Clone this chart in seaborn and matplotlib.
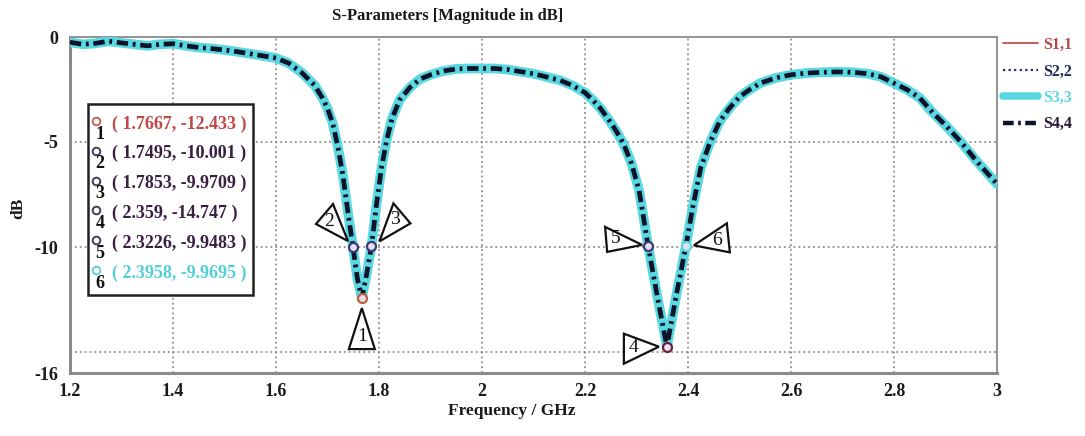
import numpy as np
import pandas as pd
import matplotlib
matplotlib.use("Agg")
import matplotlib.pyplot as plt
import matplotlib.transforms as mtransforms
from matplotlib.patches import Polygon, Rectangle
from matplotlib.lines import Line2D
import seaborn as sns

# ---------------- data ----------------
freq_ghz = [1.20, 1.225, 1.25, 1.275, 1.30, 1.325, 1.35, 1.375, 1.40, 1.425, 1.45, 1.475,
            1.50, 1.525, 1.55, 1.575, 1.60, 1.625, 1.65, 1.675, 1.69, 1.70, 1.71, 1.72,
            1.73, 1.74, 1.7495, 1.758, 1.7667, 1.776, 1.7853, 1.795, 1.805, 1.815, 1.825,
            1.84, 1.86, 1.88, 1.90, 1.925, 1.95, 1.975, 2.00, 2.025, 2.05, 2.075, 2.10,
            2.125, 2.15, 2.175, 2.20, 2.215, 2.23, 2.245, 2.26, 2.275, 2.29, 2.305, 2.3226,
            2.34, 2.359, 2.378, 2.3958, 2.41, 2.425, 2.443, 2.462, 2.48, 2.50, 2.52, 2.54,
            2.57, 2.60, 2.63, 2.66, 2.69, 2.72, 2.75, 2.775, 2.80, 2.825, 2.85, 2.875, 2.90,
            2.93, 2.96, 3.00]
s11_db = [-0.25, -0.35, -0.30, -0.20, -0.28, -0.35, -0.42, -0.35, -0.32, -0.42, -0.50, -0.55,
          -0.62, -0.70, -0.80, -0.90, -1.00, -1.25, -1.70, -2.30, -2.90, -3.40, -4.10, -5.20,
          -6.60, -8.40, -10.001, -11.50, -12.433, -11.30, -9.9709, -8.00, -6.20, -4.90, -3.90,
          -3.00, -2.40, -2.00, -1.80, -1.62, -1.52, -1.50, -1.50, -1.50, -1.55, -1.65, -1.75,
          -1.90, -2.05, -2.30, -2.65, -3.00, -3.40, -3.90, -4.45, -5.10, -6.00, -7.30, -9.9483,
          -12.30, -14.747, -12.20, -9.9695, -8.00, -6.20, -5.00, -4.00, -3.40, -2.85, -2.50,
          -2.20, -1.95, -1.80, -1.72, -1.68, -1.66, -1.68, -1.75, -1.90, -2.20, -2.50, -2.90,
          -3.60, -4.20, -5.00, -5.90, -7.00]
# the four traces overlap on the plot
s22_db = list(s11_db)
s33_db = list(s11_db)
s44_db = list(s11_db)

series_names = ["S1,1", "S2,2", "S3,3", "S4,4"]

marker_ids = ["1", "2", "3", "4", "5", "6"]
marker_freq = [1.7667, 1.7495, 1.7853, 2.359, 2.3226, 2.3958]
marker_db = [-12.433, -10.001, -9.9709, -14.747, -9.9483, -9.9695]

x_ticks = [1.2, 1.4, 1.6, 1.8, 2.0, 2.2, 2.4, 2.6, 2.8, 3.0]
x_tick_labels = ["1.2", "1.4", "1.6", "1.8", "2", "2.2", "2.4", "2.6", "2.8", "3"]
y_ticks = [0, -5, -10, -16]
y_tick_labels = ["0", "-5", "-10", "-16"]
y_grid = [-5, -10, -15]

# ---------------- style ----------------
sns.set_style("white")
SERIF = ["Liberation Serif", "DejaVu Serif"]
plt.rcParams["font.family"] = SERIF

W, H = 1085, 436
fig = plt.figure(figsize=(W / 100, H / 100), dpi=100)
ax = fig.add_axes([70 / W, 1 - 373 / H, (997 - 70) / W, (373 - 37) / H])


def fp(x, y):
    return (x / W, 1 - y / H)


df = pd.DataFrame({"freq": freq_ghz * 4,
                   "db": s11_db + s22_db + s33_db + s44_db,
                   "trace": sum([[n] * len(freq_ghz) for n in series_names], [])})

styles = {
    "S1,1": dict(color="#c0504a", lw=1.2, ls="-", z=3),
    "S2,2": dict(color="#1e2a5a", lw=1.5, ls=(0, (1, 1.5)), z=4),
    "S3,3": dict(color="#5ad8e2", lw=7.0, ls="-", z=5),
    "S4,4": dict(color="#0d1428", lw=3.4, ls=(0, (2.4, 1.0, 0.6, 1.0)), z=6),
}
for name in series_names:
    st = styles[name]
    sub = df[df["trace"] == name]
    sns.lineplot(data=sub, x="freq", y="db", ax=ax, color=st["color"], lw=st["lw"],
                 linestyle=st["ls"], zorder=st["z"], label=name, legend=False,
                 solid_capstyle="round")

ax.set_xlim(1.2, 3.0)
ax.set_ylim(-16, 0)
ax.set_xticks(x_ticks)
ax.set_xticklabels(x_tick_labels)
ax.set_yticks(y_ticks)
ax.set_yticklabels(y_tick_labels)
ax.set_xlabel("")
ax.set_ylabel("")
for lab in ax.get_xticklabels() + ax.get_yticklabels():
    lab.set_fontweight("bold")
    lab.set_fontsize(13)
    lab.set_color("#1a1a1a")
ax.tick_params(axis="x", direction="inout", length=5, width=1.2, colors="#808080",
               pad=5, labelcolor="#1a1a1a")
ax.tick_params(axis="y", direction="inout", length=5, width=1.2, colors="#808080",
               pad=6, labelcolor="#1a1a1a")

grid_kw = dict(color="#7a7a7a", lw=1.1, ls=(0, (1.2, 2.0)), zorder=1)
for xv in x_ticks[1:-1]:
    ax.axvline(xv, **grid_kw)
for yv in y_grid:
    ax.axhline(yv, **grid_kw)

for side in ["left", "bottom"]:
    ax.spines[side].set_color("#8a8a8a")
    ax.spines[side].set_linewidth(2.2)
for side in ["top", "right"]:
    ax.spines[side].set_color("#8a8a8a")
    ax.spines[side].set_linewidth(1.3)

# markers on the curve
mk_edge = ["#c0603a", "#3a3a78", "#3a3a78", "#6a2040", "#3a3a78", "#5ad8e2"]
for i in range(len(marker_ids)):
    ax.plot([marker_freq[i]], [marker_db[i]], marker="o", ms=6.5, mfc="#e8e0f0",
            mec=mk_edge[i], mew=1.6, zorder=8, ls="none")

# triangular callouts (offsets in pixels from marker, y up)
callouts = {
    "1": ([(0, -10), (-13, -51), (13, -51)], (0, -38)),
    "2": ([(-37, 23), (-20, 43), (-5, 6)], (-24, 26)),
    "3": ([(22, 43), (39, 23), (8, 5)], (24, 27)),
    "4": ([(-43, 13), (-43, -17), (-8, 0)], (-33, -1)),
    "5": ([(-43, 19), (-41, -6), (-6, 1)], (-32, 7)),
    "6": ([(8, 1), (41, 23), (44, -6)], (31, 6)),
}
for i, mid in enumerate(marker_ids):
    verts, toff = callouts[mid]
    trans = mtransforms.Affine2D() + mtransforms.ScaledTranslation(
        marker_freq[i], marker_db[i], ax.transData)
    poly = Polygon(verts, closed=True, facecolor="white", edgecolor="#111111",
                   lw=1.6, transform=trans, zorder=9, clip_on=False)
    ax.add_patch(poly)
    ax.annotate(mid, xy=(marker_freq[i], marker_db[i]), xytext=toff,
                textcoords="offset pixels", ha="center", va="center",
                fontsize=14, color="#111111", zorder=10, family=SERIF)

# marker value table
box = Rectangle(fp(88, 295), (253 - 88) / W, (295 - 104) / H, transform=fig.transFigure,
                facecolor="white", edgecolor="#222222", lw=1.8, zorder=20)
fig.add_artist(box)
row_colors = ["#c04848", "#3a1f40", "#3a1f40", "#3a1f40", "#3a1f40", "#52d0d8"]
circ_colors = ["#c86060", "#4a3a5a", "#4a3a5a", "#4a3a5a", "#4a3a5a", "#60d0d8"]
for i, mid in enumerate(marker_ids):
    ry = 124 + i * 29.8
    fig.add_artist(Line2D([96 / W], [1 - (ry - 3) / H], marker="o", ms=5.5, mfc="white",
                          mec=circ_colors[i], mew=1.4, ls="none",
                          transform=fig.transFigure, zorder=21))
    fig.text(*fp(100, ry + 10), mid, ha="center", va="center", fontsize=13,
             color="#111111", zorder=21, fontweight="bold")
    fig.text(*fp(112, ry), "( {}, {} )".format(marker_freq[i], marker_db[i]),
             ha="left", va="center", fontsize=13, color=row_colors[i],
             zorder=21, fontweight="bold")

# legend
leg = ax.legend(loc="upper left", bbox_to_anchor=fp(1003, 37), bbox_transform=fig.transFigure,
                frameon=False, prop={"family": SERIF, "weight": "bold", "size": 11.5},
                handlelength=2.2, handletextpad=0.3, labelspacing=0.65, borderpad=0,
                borderaxespad=0,
                labelcolor=["#b84848", "#1e2a5a", "#5ad8e2", "#2a1a3a"])
for h, name in zip(leg.get_lines(), series_names):
    h.set_linewidth({"S1,1": 1.3, "S2,2": 1.6, "S3,3": 5.5, "S4,4": 3.2}[name])

fig.text(*fp(448, 16), "S-Parameters [Magnitude in dB]", ha="center", va="center",
         fontsize=12, fontweight="bold", color="#1a1a1a")
fig.text(*fp(512, 411), "Frequency / GHz", ha="center", va="center",
         fontsize=12.5, fontweight="bold", color="#1a1a1a")
fig.text(*fp(18, 208), "dB", ha="center", va="center", rotation=90,
         fontsize=12.5, fontweight="bold", color="#1a1a1a")

fig.savefig("out.png", dpi=100)
